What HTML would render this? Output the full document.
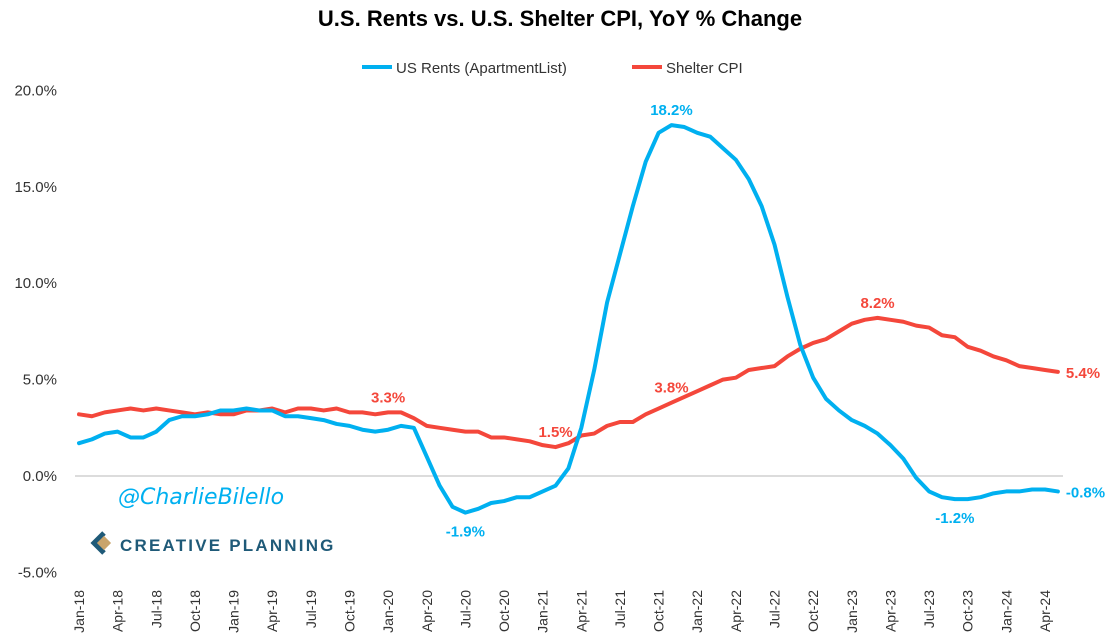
<!DOCTYPE html>
<html><head><meta charset="utf-8"><style>
body{margin:0;background:#fff;}
svg{display:block;font-family:"Liberation Sans",Calibri,sans-serif;}
</style></head><body>
<svg id="chart" width="1119" height="643" viewBox="0 0 1119 643">
<text x="560" y="26" text-anchor="middle" font-size="22" font-weight="bold" fill="#000">U.S. Rents vs. U.S. Shelter CPI, YoY % Change</text>
<g>
<g><line x1="362" y1="67" x2="392" y2="67" stroke="#00B0F0" stroke-width="4"/><text x="396" y="73" font-size="15" fill="#333">US Rents (ApartmentList)</text></g>
<g><line x1="632" y1="67" x2="662" y2="67" stroke="#F4473B" stroke-width="4"/><text x="666" y="73" font-size="15" fill="#333">Shelter CPI</text></g>
</g>
<g id="yaxis"></g>
<g id="xaxis"></g>
<g id="series"></g>
<g id="labels"></g>
<text x="118" y="504" font-size="22" font-style="italic" fill="#00B0F0" font-family="'DejaVu Sans',sans-serif">@CharlieBilello</text>
<g>
<path d="M104 533 L94 543 L104 553" fill="none" stroke="#1f5a78" stroke-width="5"/>
<rect x="99" y="538" width="10" height="10" fill="#c9a46c" transform="rotate(45 104 543)"/>
<text x="120" y="551" font-size="17" font-weight="bold" fill="#1f5a78" letter-spacing="2.2">CREATIVE PLANNING</text>
</g>
</svg>
<script>
const months=["Jan","Feb","Mar","Apr","May","Jun","Jul","Aug","Sep","Oct","Nov","Dec"];
const categories=[];for(let y=18;y<=24;y++)for(let m=0;m<12;m++){if(y===24&&m>4)break;categories.push(months[m]+"-"+y);}
const rents=[1.7,1.9,2.2,2.3,2.0,2.0,2.3,2.9,3.1,3.1,3.2,3.4,
3.4,3.5,3.4,3.4,3.1,3.1,3.0,2.9,2.7,2.6,2.4,2.3,
2.4,2.6,2.5,1.0,-0.5,-1.6,-1.9,-1.7,-1.4,-1.3,-1.1,-1.1,
-0.8,-0.5,0.4,2.5,5.5,9.0,11.5,14.0,16.3,17.8,18.2,18.1,
17.8,17.6,17.0,16.4,15.4,14.0,12.0,9.3,6.8,5.1,4.0,3.4,
2.9,2.6,2.2,1.6,0.9,-0.1,-0.8,-1.1,-1.2,-1.2,-1.1,-0.9,
-0.8,-0.8,-0.7,-0.7,-0.8];
const shelter=[3.2,3.1,3.3,3.4,3.5,3.4,3.5,3.4,3.3,3.2,3.3,3.2,
3.2,3.4,3.4,3.5,3.3,3.5,3.5,3.4,3.5,3.3,3.3,3.2,
3.3,3.3,3.0,2.6,2.5,2.4,2.3,2.3,2.0,2.0,1.9,1.8,
1.6,1.5,1.7,2.1,2.2,2.6,2.8,2.8,3.2,3.5,3.8,4.1,
4.4,4.7,5.0,5.1,5.5,5.6,5.7,6.2,6.6,6.9,7.1,7.5,
7.9,8.1,8.2,8.1,8.0,7.8,7.7,7.3,7.2,6.7,6.5,6.2,
6.0,5.7,5.6,5.5,5.4];
const yTicks=[-5,0,5,10,15,20];
const rentLabels=[30,46,68,76];
const shelterLabels=[24,37,46,62,76];
const NS="http://www.w3.org/2000/svg";
const x=i=>79+i*12.88;
const y=v=>476-v*19.28;
function el(t,a,p){const e=document.createElementNS(NS,t);for(const k in a)e.setAttribute(k,a[k]);document.getElementById(p).appendChild(e);return e;}
yTicks.forEach(v=>{
 const t=el("text",{x:57,y:y(v)+5,"text-anchor":"end","font-size":15,fill:"#333"},"yaxis");
 t.textContent=v.toFixed(1)+"%";
 
 
});
const zl=el("line",{x1:75,x2:1063,y1:y(0),y2:y(0),stroke:"#d0d0d0","stroke-width":1.5},"yaxis");


categories.forEach((c,i)=>{if(i%3)return;
 const t=el("text",{transform:`translate(${x(i)+5},${590}) rotate(-90)`,"text-anchor":"end","font-size":14,fill:"#333"},"xaxis");
 t.textContent=c;
 
 
});
function line(d,col,name){const p=el("polyline",{points:d.map((v,i)=>x(i)+","+y(v)).join(" "),fill:"none",stroke:col,"stroke-width":4,"stroke-linejoin":"round","stroke-linecap":"round"},"series");
 
 }
line(shelter,"#F4473B","shelter-cpi-line");
line(rents,"#00B0F0","us-rents-line");
function lab(d,i,col,below){const last=i===d.length-1;
 const t=el("text",{x:last?x(i)+8:x(i),y:last?y(d[i])+6:(below?y(d[i])+24:y(d[i])-10),"text-anchor":last?"start":"middle","font-size":15,"font-weight":"bold",fill:col},"labels");
 t.textContent=d[i].toFixed(1)+"%";
 
 }
rentLabels.forEach(i=>lab(rents,i,"#00B0F0",rents[i]<0));
shelterLabels.forEach(i=>lab(shelter,i,"#F4473B",false));
</script>
</body></html>
